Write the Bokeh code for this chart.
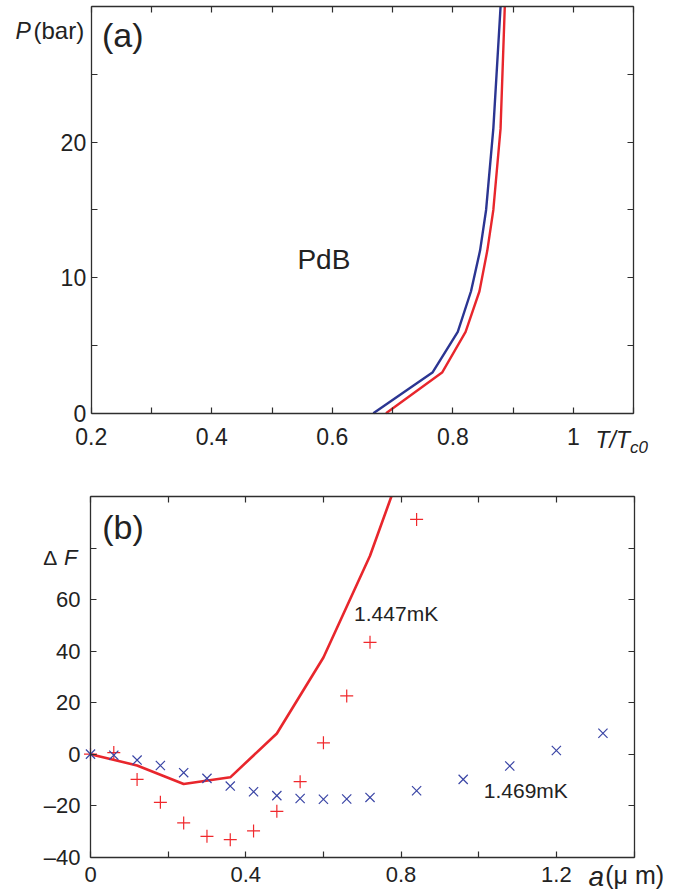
from bokeh.plotting import figure
from bokeh.models import Range1d, LinearAxis, FixedTicker, Label
from bokeh.layouts import column
from bokeh.embed import file_html
from bokeh.resources import INLINE

# ---------------- data: panel (a) ----------------
pressure_bar = [0, 3, 6, 9, 12, 15, 21, 30]
t_blue = [0.668, 0.766, 0.808, 0.830, 0.845, 0.855, 0.867, 0.879]
t_red = [0.689, 0.782, 0.821, 0.844, 0.857, 0.867, 0.879, 0.886]
a_xticks = [0.2, 0.3, 0.4, 0.5, 0.6, 0.7, 0.8, 0.9, 1.0, 1.1]
a_xlabels = ["0.2", "", "0.4", "", "0.6", "", "0.8", "", "1", ""]
a_yticks = [0, 5, 10, 15, 20, 25, 30]
a_ylabels = ["0", "", "10", "", "20", "", ""]

# ---------------- data: panel (b) ----------------
a_cross = [0.0, 0.06, 0.12, 0.18, 0.24, 0.30, 0.36, 0.42, 0.48, 0.54, 0.60,
           0.66, 0.72, 0.84, 0.96, 1.08, 1.20, 1.32]
dF_cross = [0.0, -0.4, -2.3, -4.4, -7.2, -9.4, -12.4, -14.6, -16.1, -17.2,
            -17.5, -17.4, -16.8, -14.2, -9.8, -4.6, 1.4, 8.1]
a_plus = [0.0, 0.06, 0.12, 0.18, 0.24, 0.30, 0.36, 0.42, 0.48, 0.54, 0.60,
          0.66, 0.72, 0.84]
dF_plus = [0.0, 0.6, -9.8, -18.7, -26.7, -31.9, -33.2, -29.8, -22.2, -10.7,
           4.4, 22.6, 43.4, 91.1]
# the curve as far as it is visible (it leaves the box at the top)
a_line = [0.0, 0.12, 0.24, 0.36, 0.48, 0.60, 0.72, 0.775]
dF_line = [0.0, -4.4, -11.6, -9.0, 8.0, 37.5, 77.0, 100.0]
b_xticks = [0.0, 0.2, 0.4, 0.6, 0.8, 1.0, 1.2, 1.4]
b_xlabels = ["0", "", "0.4", "", "0.8", "", "1.2", ""]
b_yticks = [-40, -20, 0, 20, 40, 60, 80, 100]
b_ylabels = ["\u201340", "\u201320", "0", "20", "40", "60", "", ""]

FONT = "Liberation Sans"
AX = "#2e2e2e"
TXT = "#222222"
BLUE = "#2b3592"
RED = "#e8262c"
BLUE_M = "#3a45a5"
RED_M = "#f0282c"

W = 684
H1, H2 = 460, 432


def view_range(v0, v1, p0, p1, size):
    """Range whose values v0, v1 fall at canvas pixels p0, p1 (p along axis)."""
    s = (v1 - v0) / (p1 - p0)
    return Range1d(v0 - p0 * s, v0 + (size - p0) * s)


def add_axes(p, xb, yb, xticks, xlabels, yticks, ylabels, fs, xstand, ystand):
    specs = [
        ("below", yb[0], xticks, xlabels, xstand, xb),
        ("above", yb[1], xticks, [""] * len(xticks), 0, xb),
        ("left", xb[0], yticks, ylabels, ystand, yb),
        ("right", xb[1], yticks, [""] * len(yticks), 0, yb),
    ]
    for side, loc, ticks, labels, stand, bounds in specs:
        ax = LinearAxis(ticker=FixedTicker(ticks=ticks), fixed_location=loc,
                        bounds=bounds)
        ax.major_label_overrides = {t: l for t, l in zip(ticks, labels)}
        ax.major_label_standoff = stand
        ax.axis_line_color = AX
        ax.axis_line_width = 1.3
        ax.major_tick_line_color = AX
        ax.major_tick_line_width = 1.2
        ax.major_tick_in = 6
        ax.major_tick_out = 0
        ax.minor_tick_line_color = None
        ax.major_label_text_font = FONT
        ax.major_label_text_font_size = fs
        ax.major_label_text_color = TXT
        p.add_layout(ax, side)


def add_text(p, x, y, text, size, ppu, italic=False, color=TXT):
    # y is the wanted baseline; Bokeh sets "alphabetic" text ~0.39em low
    y_fix = y + 0.39 * size / ppu
    p.add_layout(Label(x=x, y=y_fix, text=text, text_font=FONT,
                       text_font_size=f"{size}px", text_color=color,
                       text_font_style="italic" if italic else "normal",
                       text_baseline="alphabetic", text_align="left"))


def base_figure(height, xr, yr):
    p = figure(width=W, height=height, output_backend="svg",
               toolbar_location=None, x_range=xr, y_range=yr,
               x_axis_location=None, y_axis_location=None,
               min_border=0, min_border_left=0, min_border_right=0,
               min_border_top=0, min_border_bottom=0)
    p.outline_line_color = None
    p.background_fill_color = "white"
    p.border_fill_color = "white"
    p.xgrid.visible = False
    p.ygrid.visible = False
    return p


# ---------------- panel (a) ----------------
PPU1 = (412.7 - 6.2) / 30.0
xr1 = view_range(0.2, 1.1, 90.7, 633.3, W)
yr1 = view_range(0, 30, H1 - 412.7, H1 - 6.2, H1)
p1 = base_figure(H1, xr1, yr1)
p1.line(t_blue, pressure_bar, line_color=BLUE, line_width=2.4)
p1.line(t_red, pressure_bar, line_color=RED, line_width=2.4)
add_axes(p1, (0.2, 1.1), (0, 30), a_xticks, a_xlabels, a_yticks, a_ylabels,
         "23px", 15, 5)

add_text(p1, 0.0744, 27.52, "P", 23, PPU1, italic=True)
add_text(p1, 0.1043, 27.56, "(bar)", 24, PPU1)
add_text(p1, 0.2180, 26.95, "(a)", 34, PPU1)
add_text(p1, 0.542, 10.53, "PdB", 28, PPU1)
add_text(p1, 1.0365, -2.63, "T/T", 23, PPU1, italic=True)
add_text(p1, 1.0935, -3.0, "c0", 17, PPU1, italic=True)

# ---------------- panel (b) ----------------
PPU2 = (856.7 - 496.0) / 140.0
xr2 = view_range(0.0, 1.4, 90.0, 633.5, W)
yr2 = view_range(-40, 100, H2 - (856.7 - H1), H2 - (496.0 - H1), H2)
p2 = base_figure(H2, xr2, yr2)
p2.line(a_line, dF_line, line_color=RED, line_width=2.6)
p2.scatter(a_plus, dF_plus, marker="cross", size=13, line_color=RED_M,
           line_width=1.2)
p2.scatter(a_cross, dF_cross, marker="x", size=13, line_color=BLUE_M,
           line_width=1.2)
add_axes(p2, (0.0, 1.4), (-40, 100), b_xticks, b_xlabels, b_yticks, b_ylabels,
         "22px", 10, 10)

add_text(p2, 0.030, 83.1, "(b)", 34, PPU2)
add_text(p2, -0.122, 73.0, "\u0394", 21, PPU2)
add_text(p2, -0.068, 73.0, "F", 22, PPU2, italic=True)
add_text(p2, 0.679, 51.4, "1.447mK", 21, PPU2)
add_text(p2, 1.013, -17.2, "1.469mK", 21, PPU2)
add_text(p2, 1.283, -51.6, "a", 28, PPU2, italic=True)
add_text(p2, 1.326, -50.5, "(\u03bc m)", 25, PPU2)

layout = column(p1, p2)
open("out.html", "w").write(file_html(layout, INLINE))
